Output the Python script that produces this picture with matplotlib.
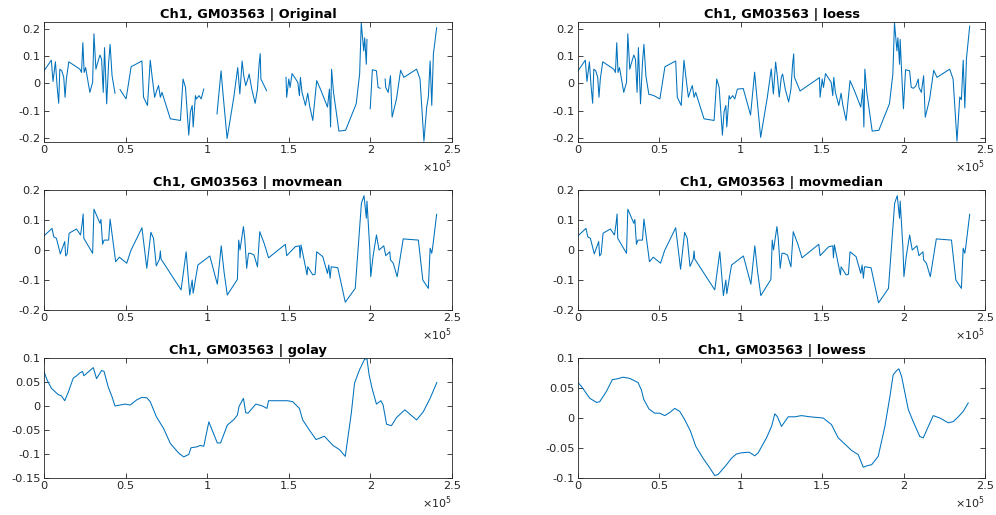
import numpy as np
import matplotlib
matplotlib.use("Agg")
import matplotlib.pyplot as plt

nan = np.nan

# x in units of 1e5
orig_x = [0.000, 0.045, 0.055, 0.070, 0.080, 0.090, 0.097, 0.109, 0.121, 0.129, 0.137, 0.152,
          0.220, 0.230, 0.238, 0.246, 0.255, 0.281, 0.298, 0.306, 0.318, 0.326, 0.343, 0.353,
          0.363, 0.371, 0.384, 0.396, 0.405, 0.417, 0.435, 0.450, 0.466, 0.503, 0.534, 0.600,
          0.610, 0.634, 0.651, 0.663, 0.678, 0.692, 0.702, 0.713, 0.723, 0.774, 0.836, 0.852,
          0.867, 0.887, 0.897, 0.908, 0.914, 0.928, 0.934, 0.950, 0.963, 0.979, 1.015, 1.060,
          1.085, 1.097, 1.122, 1.163, 1.187, 1.200, 1.214, 1.224, 1.236, 1.249, 1.257, 1.273,
          1.294, 1.308, 1.318, 1.325, 1.329, 1.364, 1.420, 1.483, 1.487, 1.500, 1.508, 1.520,
          1.555, 1.565, 1.571, 1.581, 1.602, 1.616, 1.627, 1.647, 1.671, 1.698, 1.737, 1.749,
          1.756, 1.762, 1.774, 1.807, 1.848, 1.913, 1.934, 1.944, 1.959, 1.965, 1.975, 1.979,
          1.988, 1.999, 2.012, 2.037, 2.047, 2.060, 2.075, 2.090, 2.094, 2.109, 2.123, 2.133,
          2.160, 2.185, 2.205, 2.283, 2.304, 2.328, 2.345, 2.355, 2.366, 2.376, 2.386, 2.406]

orig_y = [0.046, 0.085, 0.007, 0.079, -0.008, -0.073, 0.052, 0.046, 0.022, -0.051, 0.016, 0.079,
          0.052, 0.040, 0.149, 0.040, 0.058, -0.033, 0.004, 0.182, 0.052, 0.070, 0.104, 0.088,
          -0.033, 0.131, -0.075, 0.076, 0.143, 0.028, -0.036, nan, -0.023, -0.057, 0.061, 0.082,
          -0.051, -0.081, 0.085, 0.022, -0.051, -0.024, -0.008, -0.051, -0.033, -0.130, -0.136, 0.016,
          -0.015, -0.190, -0.105, -0.081, -0.160, -0.045, -0.057, -0.045, -0.057, -0.021, nan, -0.112,
          0.046, -0.039, -0.202, -0.051, 0.058, -0.039, 0.082, 0.028, -0.008, 0.016, 0.034, -0.021,
          -0.073, -0.021, 0.070, 0.109, 0.016, -0.027, nan, 0.022, -0.051, 0.016, -0.015, 0.036,
          0.004, -0.045, 0.022, -0.033, -0.081, -0.036, -0.081, -0.136, 0.010, -0.027, -0.087, -0.021,
          -0.160, 0.052, -0.033, -0.175, -0.172, -0.075, 0.034, 0.222, 0.119, 0.167, 0.070, 0.161,
          nan, -0.093, 0.050, 0.046, -0.015, -0.018, nan, 0.016, -0.015, -0.033, 0.028, -0.124,
          -0.057, 0.048, 0.022, 0.052, 0.016, -0.212, -0.087, -0.051, 0.082, -0.081, 0.107, 0.204]

loess_y = [0.046, 0.085, 0.007, 0.079, -0.008, -0.073, 0.052, 0.046, 0.022, -0.051, 0.016, 0.079,
           0.052, 0.040, 0.149, 0.040, 0.058, -0.033, 0.004, 0.182, 0.052, 0.070, 0.104, 0.088,
           -0.033, 0.131, -0.075, 0.076, 0.143, 0.028, -0.040, -0.042, -0.045, -0.057, 0.061, 0.082,
           -0.051, -0.081, 0.085, 0.022, -0.051, -0.024, -0.008, -0.051, -0.033, -0.130, -0.136, 0.016,
           -0.015, -0.190, -0.105, -0.081, -0.160, -0.045, -0.057, -0.045, -0.057, -0.021, -0.019, -0.116,
           0.041, -0.039, -0.198, -0.051, 0.053, -0.039, 0.078, 0.028, -0.050, 0.023, 0.034, -0.021,
           -0.068, -0.021, 0.070, 0.108, 0.023, -0.028, -0.005, 0.021, -0.051, 0.016, -0.015, 0.036,
           0.004, -0.045, 0.022, -0.033, -0.081, -0.036, -0.081, -0.136, 0.010, -0.027, -0.087, -0.021,
           -0.160, 0.052, -0.033, -0.175, -0.172, -0.075, 0.034, 0.222, 0.119, 0.167, 0.070, 0.161,
           0.040, -0.093, 0.050, 0.046, -0.015, -0.018, -0.010, 0.016, -0.015, -0.033, 0.028, -0.124,
           -0.057, 0.048, 0.022, 0.052, 0.016, -0.212, -0.050, -0.060, 0.085, -0.090, 0.090, 0.210]

movmean_x = [0.000, 0.049, 0.060, 0.076, 0.100, 0.127, 0.133, 0.142, 0.154, 0.199, 0.224, 0.234,
             0.240, 0.244, 0.298, 0.306, 0.343, 0.349, 0.359, 0.368, 0.396, 0.405, 0.439, 0.462,
             0.507, 0.532, 0.600, 0.630, 0.655, 0.671, 0.688, 0.708, 0.713, 0.717, 0.840, 0.871,
             0.893, 0.908, 0.914, 0.943, 1.016, 1.062, 1.086, 1.103, 1.123, 1.185, 1.193, 1.201,
             1.222, 1.230, 1.242, 1.253, 1.267, 1.287, 1.308, 1.322, 1.349, 1.376, 1.479, 1.487,
             1.540, 1.565, 1.569, 1.575, 1.612, 1.616, 1.647, 1.661, 1.671, 1.708, 1.737, 1.745,
             1.753, 1.760, 1.800, 1.846, 1.907, 1.945, 1.961, 1.975, 1.979, 1.996, 2.002, 2.016,
             2.037, 2.053, 2.082, 2.094, 2.119, 2.123, 2.140, 2.164, 2.201, 2.294, 2.321, 2.355,
             2.366, 2.376, 2.382, 2.406]

movmean_y = [0.047, 0.072, 0.044, 0.039, -0.013, 0.028, -0.020, -0.013, 0.056, 0.070, 0.050, 0.089,
             0.120, 0.039, -0.011, 0.136, 0.089, 0.102, 0.019, 0.033, 0.033, 0.103, -0.039, -0.024,
             -0.044, -0.002, 0.074, -0.061, 0.059, 0.039, -0.053, -0.030, -0.003, -0.030, -0.133, -0.006,
             -0.150, -0.100, -0.144, -0.050, -0.020, -0.114, 0.014, -0.072, -0.150, -0.098, 0.033, 0.000,
             0.078, 0.039, -0.061, -0.011, -0.011, -0.017, -0.056, 0.061, 0.022, -0.026, 0.019, -0.019,
             0.011, 0.014, -0.026, 0.017, -0.083, -0.056, -0.083, -0.081, -0.006, -0.022, -0.078, -0.050,
             -0.094, -0.056, -0.059, -0.174, -0.128, 0.156, 0.181, 0.106, 0.163, 0.006, -0.089, -0.022,
             0.050, 0.000, 0.014, -0.019, -0.006, -0.033, -0.044, -0.089, 0.037, 0.033, -0.100, -0.128,
             0.006, -0.011, 0.011, 0.119]

movmedian_y = [0.047, 0.072, 0.044, 0.039, -0.013, 0.028, -0.020, -0.013, 0.056, 0.070, 0.050, 0.089,
               0.120, 0.039, -0.011, 0.136, 0.089, 0.102, 0.019, 0.033, 0.033, 0.103, -0.039, -0.024,
               -0.044, -0.002, 0.074, -0.064, 0.059, 0.039, -0.055, -0.030, -0.003, -0.030, -0.133, -0.006,
               -0.152, -0.100, -0.146, -0.050, -0.020, -0.114, 0.014, -0.072, -0.152, -0.098, 0.033, 0.000,
               0.078, 0.039, -0.061, -0.011, -0.011, -0.017, -0.056, 0.061, 0.022, -0.026, 0.019, -0.019,
               0.011, 0.014, -0.026, 0.017, -0.083, -0.056, -0.083, -0.081, -0.006, -0.022, -0.078, -0.050,
               -0.094, -0.056, -0.059, -0.176, -0.128, 0.156, 0.181, 0.106, 0.163, 0.006, -0.089, -0.022,
               0.050, 0.000, 0.014, -0.019, -0.006, -0.033, -0.044, -0.089, 0.037, 0.033, -0.100, -0.128,
               0.006, -0.011, 0.011, 0.119]

golay_x = [0.000, 0.018, 0.045, 0.086, 0.107, 0.127, 0.148, 0.179, 0.200, 0.220, 0.236, 0.244,
           0.265, 0.302, 0.322, 0.353, 0.368, 0.394, 0.415, 0.435, 0.466, 0.497, 0.528, 0.569,
           0.600, 0.630, 0.651, 0.688, 0.733, 0.774, 0.825, 0.856, 0.887, 0.901, 0.938, 0.958,
           0.979, 1.010, 1.062, 1.082, 1.123, 1.164, 1.185, 1.195, 1.222, 1.236, 1.250, 1.298,
           1.339, 1.366, 1.376, 1.431, 1.493, 1.524, 1.565, 1.585, 1.626, 1.667, 1.718, 1.770,
           1.811, 1.846, 1.883, 1.903, 1.934, 1.965, 1.979, 1.992, 2.010, 2.037, 2.064, 2.078,
           2.099, 2.129, 2.160, 2.211, 2.283, 2.324, 2.366, 2.407]

golay_y = [0.072, 0.055, 0.037, 0.024, 0.021, 0.011, 0.028, 0.058, 0.063, 0.069, 0.072, 0.063,
           0.069, 0.080, 0.057, 0.074, 0.072, 0.039, 0.021, 0.000, 0.002, 0.004, 0.002, 0.013,
           0.018, 0.017, 0.009, -0.022, -0.047, -0.078, -0.098, -0.106, -0.101, -0.087, -0.085, -0.082,
           -0.084, -0.033, -0.077, -0.077, -0.040, -0.028, -0.019, -0.001, 0.016, -0.014, -0.015, 0.004,
           0.000, -0.005, 0.011, 0.011, 0.011, 0.009, -0.005, -0.029, -0.050, -0.070, -0.063, -0.082,
           -0.091, -0.105, -0.015, 0.048, 0.076, 0.098, 0.098, 0.065, 0.037, 0.004, 0.011, 0.002,
           -0.038, -0.041, -0.024, -0.008, -0.029, -0.012, 0.016, 0.049]

lowess_x = [0.000, 0.020, 0.072, 0.113, 0.133, 0.174, 0.211, 0.236, 0.277, 0.318, 0.369, 0.389,
            0.404, 0.436, 0.471, 0.502, 0.533, 0.563, 0.594, 0.625, 0.656, 0.691, 0.723, 0.768,
            0.809, 0.840, 0.861, 0.912, 0.943, 0.973, 1.004, 1.051, 1.086, 1.107, 1.158, 1.189,
            1.209, 1.225, 1.250, 1.291, 1.332, 1.373, 1.424, 1.506, 1.557, 1.598, 1.649, 1.680,
            1.721, 1.752, 1.783, 1.803, 1.844, 1.885, 1.916, 1.936, 1.957, 1.971, 1.988, 2.008,
            2.029, 2.059, 2.100, 2.121, 2.152, 2.182, 2.223, 2.274, 2.305, 2.336, 2.366, 2.397]

lowess_y = [0.059, 0.053, 0.033, 0.026, 0.027, 0.044, 0.064, 0.065, 0.068, 0.066, 0.059, 0.047,
            0.031, 0.015, 0.008, 0.008, 0.004, 0.009, 0.016, 0.011, -0.003, -0.022, -0.047, -0.067,
            -0.083, -0.096, -0.094, -0.078, -0.067, -0.060, -0.058, -0.057, -0.063, -0.058, -0.033, -0.014,
            0.007, 0.002, -0.014, 0.002, 0.002, 0.004, 0.002, 0.000, -0.011, -0.033, -0.046, -0.054,
            -0.061, -0.082, -0.079, -0.078, -0.064, -0.014, 0.036, 0.072, 0.079, 0.082, 0.069, 0.042,
            0.014, -0.006, -0.031, -0.033, -0.014, 0.004, 0.000, -0.008, -0.006, 0.002, 0.011, 0.025]

title_prefix = "Ch1, GM03563 | "
panels = [
    ("Original", orig_x, orig_y, (-0.215, 0.225), [-0.2, -0.1, 0, 0.1, 0.2]),
    ("loess", orig_x, loess_y, (-0.215, 0.225), [-0.2, -0.1, 0, 0.1, 0.2]),
    ("movmean", movmean_x, movmean_y, (-0.2, 0.2), [-0.2, -0.1, 0, 0.1, 0.2]),
    ("movmedian", movmean_x, movmedian_y, (-0.2, 0.2), [-0.2, -0.1, 0, 0.1, 0.2]),
    ("golay", golay_x, golay_y, (-0.15, 0.1), [-0.15, -0.1, -0.05, 0, 0.05, 0.1]),
    ("lowess", lowess_x, lowess_y, (-0.1, 0.1), [-0.1, -0.05, 0, 0.05, 0.1]),
]
xticks = [0, 0.5, 1, 1.5, 2, 2.5]

W, H = 996, 515
fig = plt.figure(figsize=(W / 100, H / 100), dpi=100)
plt.rcParams['font.family'] = ['DejaVu Sans']
plt.rcParams['mathtext.fontset'] = 'dejavusans'

lefts = [44, 578]
widths = [408, 407]
tops = [22, 190, 358]
height = 120
axcol = (0.15, 0.15, 0.15)
line_col = '#0072BD'

def fmt(v):
    if v == 0:
        return "0"
    return "%g" % v

for i, (name, xs, ys, ylim, yt) in enumerate(panels):
    r, c = divmod(i, 2)
    ax = fig.add_axes([lefts[c] / W, 1 - (tops[r] + height) / H, widths[c] / W, height / H])
    ax.plot(xs, ys, color=line_col, lw=0.75)
    ax.set_xlim(0, 2.5)
    ax.set_ylim(*ylim)
    ax.set_xticks(xticks)
    ax.set_xticklabels([fmt(v) for v in xticks])
    ax.set_yticks(yt)
    ax.set_yticklabels([fmt(v) for v in yt])
    ax.tick_params(direction='in', length=3.5, width=0.6, top=True, right=True,
                   colors=axcol, labelsize=8.2, labelcolor=(0.15, 0.15, 0.15), pad=2.5)
    for sp in ax.spines.values():
        sp.set_color(axcol)
        sp.set_linewidth(0.6)
    ax.set_title(title_prefix + name, fontsize=9.3, fontweight='bold', pad=3, color='black')
    ax.text(1.0, -0.14, r'$\times10^{5}$', transform=ax.transAxes, ha='right', va='top',
            fontsize=8, color=(0.15, 0.15, 0.15))

fig.savefig("out.png", dpi=100, facecolor='white')
